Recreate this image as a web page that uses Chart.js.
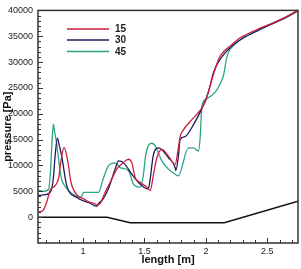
<!DOCTYPE html>
<html><head><meta charset="utf-8">
<script src="https://cdn.jsdelivr.net/npm/chart.js@4/dist/chart.umd.min.js"></script>
<style>html,body{margin:0;padding:0;background:#fff}#w{width:301px;height:269px}</style>
</head><body><div id="w"><canvas id="c"></canvas></div>
<script>
const seriesNames = ['15', '30', '45'];
const xTickLabels = [1, 1.5, 2, 2.5];
const yTickLabels = [0, 5000, 10000, 15000, 20000, 25000, 30000, 35000, 40000];

const x15 = [0.633,0.674,0.704,0.731,0.772,0.80,0.82,0.845,0.875,0.902,0.97,1.002,1.05,1.098,1.112,1.139,1.179,1.220,1.275,1.328,1.369,1.397,1.424,1.465,1.519,1.546,1.575,1.601,1.641,1.695,1.750,1.770,1.791,1.817,1.872,1.954,1.994,2.035,2.076,2.117,2.198,2.280,2.416,2.551,2.65,2.75];
const y15 = [1000,1300,2900,5150,6100,7500,10900,13500,10900,6700,3900,3600,2900,2600,2300,2600,4800,6700,9300,10550,11200,10550,7700,6700,5800,5150,8500,11500,13100,11800,10200,12500,15600,16900,18500,20700,22300,25500,28700,31200,33100,34700,36300,37600,38700,40000];

const x30 = [0.633,0.704,0.745,0.760,0.772,0.791,0.805,0.826,0.867,0.949,1.057,1.112,1.125,1.165,1.206,1.261,1.288,1.328,1.397,1.465,1.519,1.532,1.573,1.614,1.695,1.750,1.755,1.777,1.790,1.831,1.899,1.967,2.021,2.062,2.117,2.198,2.30,2.42,2.55,2.65,2.75];
const y30 = [4200,4400,5500,8000,11800,15300,14000,11800,6100,3800,2700,2100,2600,3600,5500,9300,10900,10550,8300,6400,5500,5600,12100,13400,11500,9600,9000,12000,15000,15600,17900,21000,24200,28000,30600,32800,34600,36100,37500,38600,40000];

const x45 = [0.633,0.68,0.72,0.735,0.748,0.758,0.768,0.780,0.802,0.821,0.861,0.916,0.967,0.989,1.002,1.125,1.165,1.206,1.261,1.302,1.369,1.410,1.465,1.49,1.51,1.535,1.56,1.59,1.641,1.695,1.750,1.775,1.858,1.899,1.940,1.954,1.967,2.00,2.076,2.117,2.144,2.171,2.198,2.225,2.304,2.416,2.524,2.632,2.742,2.75];
const y45 = [5200,5000,5400,9000,15000,18000,16500,15000,10900,7700,5700,4450,3900,4000,4800,4800,7500,9900,10500,9600,9000,6400,5800,8000,12000,14000,14300,13700,10900,9300,8300,8000,13400,13400,12800,15600,21500,22800,24200,25800,27500,31000,32500,33200,34700,36000,37300,38500,39800,40000];

const xGeom = [0.633,1.196,1.383,2.15,2.75];
const yGeom = [0,0,-1100,-1100,3100];

const colors = ['#cc1f3c', '#1e1a5e', '#2ea383'];
const pts = (xs, ys) => xs.map((x, i) => ({x: x, y: ys[i]}));

const frame = {
  id: 'frame',
  afterDatasetsDraw(chart) {
    const {ctx, chartArea: a, scales: {x, y}} = chart;
    ctx.save();
    ctx.strokeStyle = '#333';
    ctx.lineWidth = 1;
    ctx.beginPath();
    for (let i = 7; i <= 27; i++) {
      const v = i / 10;
      const px = Math.round(x.getPixelForValue(v)) + 0.5;
      const len = (i % 5 === 0) ? 5 : 3;
      ctx.moveTo(px, a.bottom); ctx.lineTo(px, a.bottom - len);
    }
    for (let i = -4; i <= 40; i++) {
      const py = Math.round(y.getPixelForValue(i * 1000)) + 0.5;
      const len = (i % 5 === 0) ? 5 : 3;
      ctx.moveTo(a.left, py); ctx.lineTo(a.left + len, py);
    }
    ctx.stroke();
    ctx.lineWidth = 1.5;
    ctx.strokeStyle = '#333';
    ctx.strokeRect(a.left, a.top, a.right - a.left, a.bottom - a.top);
    // legend
    const ly = [29, 40, 51.5];
    ctx.font = 'bold 10px "Liberation Sans", Arial, sans-serif';
    ctx.textBaseline = 'middle';
    ctx.textAlign = 'left';
    for (let i = 0; i < 3; i++) {
      ctx.strokeStyle = colors[i];
      ctx.lineWidth = 1.5;
      ctx.beginPath(); ctx.moveTo(67, ly[i]); ctx.lineTo(109, ly[i]); ctx.stroke();
      ctx.fillStyle = '#222';
      ctx.fillText(seriesNames[i], 115, ly[i] + 0.5);
    }
    ctx.restore();
  }
};

const ds = (label, data, color, w) => ({label, data, borderColor: color, backgroundColor: color,
  borderWidth: w, pointRadius: 0, showLine: true, fill: false, cubicInterpolationMode: 'monotone'});

new Chart(document.getElementById('c'), {
  type: 'scatter',
  data: {datasets: [
    ds('15', pts(x15, y15), colors[0], 1.3),
    ds('30', pts(x30, y30), colors[1], 1.3),
    ds('45', pts(x45, y45), colors[2], 1.3),
    Object.assign(ds('geom', pts(xGeom, yGeom), '#111', 1.5), {cubicInterpolationMode: 'default', tension: 0})
  ]},
  options: {
    responsive: true, maintainAspectRatio: false, animation: false,
    layout: {padding: {left: 0, top: 6, right: 3, bottom: 0}},
    plugins: {legend: {display: false}, tooltip: {enabled: false}},
    scales: {
      x: {type: 'linear', min: 0.633, max: 2.75,
        afterBuildTicks: s => { s.ticks = xTickLabels.map(v => ({value: v})); },
        afterFit: s => { s.height = 26; },
        grid: {display: false, drawTicks: false}, border: {display: false},
        ticks: {padding: 3, color: '#222', font: {family: '"Liberation Sans", Arial, sans-serif', size: 9}, maxRotation: 0,
          callback: v => String(v)},
        title: {display: true, text: 'length [m]', color: '#111', padding: {top: 0, bottom: 2},
          font: {family: '"Liberation Sans", Arial, sans-serif', size: 11, weight: 'bold'}}
      },
      y: {type: 'linear', min: -5000, max: 40000,
        afterBuildTicks: s => { s.ticks = yTickLabels.map(v => ({value: v})); },
        afterFit: s => { s.width = 38; },
        grid: {display: false, drawTicks: false}, border: {display: false},
        ticks: {padding: 5, color: '#222', font: {family: '"Liberation Sans", Arial, sans-serif', size: 9},
          callback: v => String(v)},
        title: {display: true, text: 'pressure [Pa]', color: '#111', padding: {top: 1, bottom: 0},
          font: {family: '"Liberation Sans", Arial, sans-serif', size: 11, weight: 'bold'}}
      }
    }
  },
  plugins: [frame]
});
</script></body></html>
